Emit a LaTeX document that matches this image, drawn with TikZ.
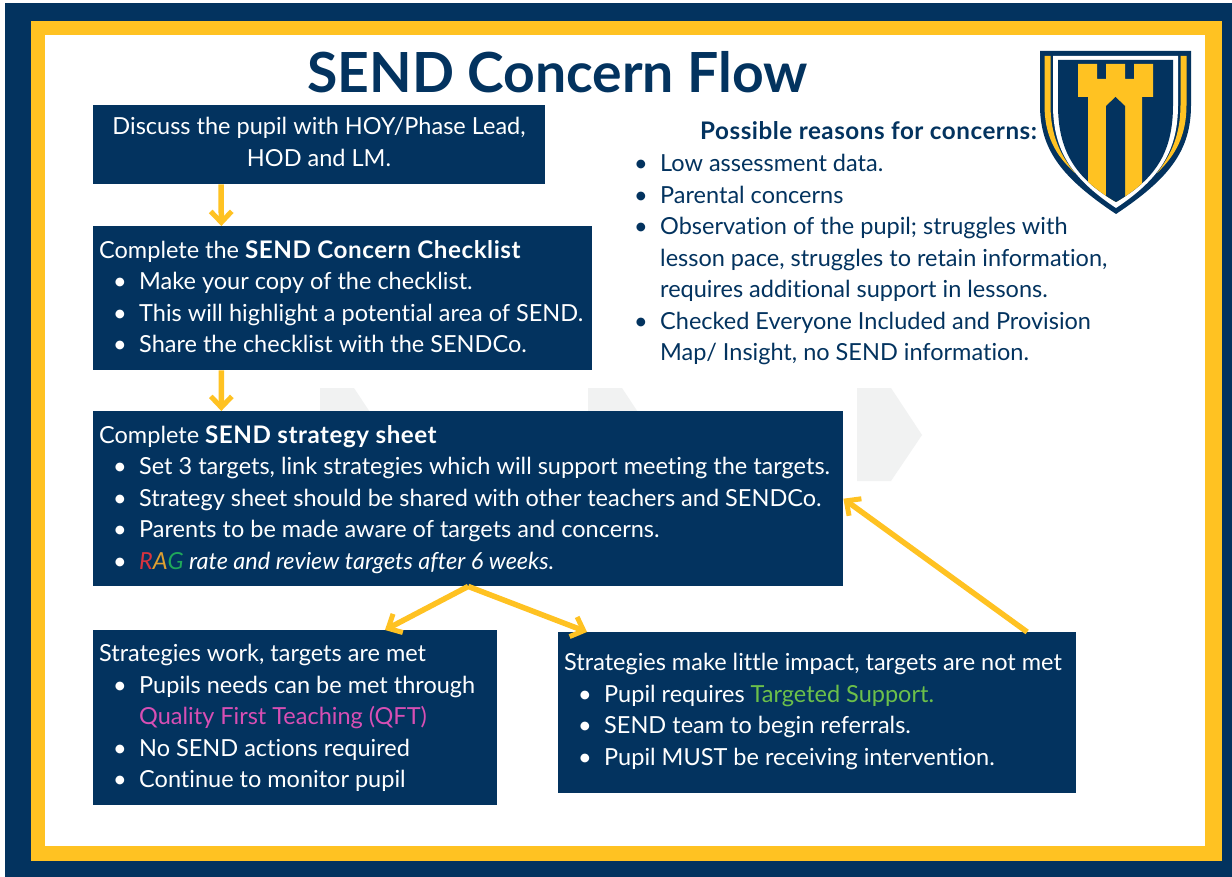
\documentclass[tikz,border=0pt]{standalone}
\usepackage{fontspec}
\setmainfont{Lato}[Ligatures=CommonOff]
\usetikzlibrary{arrows.meta,calc}
\definecolor{navy}{HTML}{03335F}
\definecolor{gold}{HTML}{FFC222}
\definecolor{wm}{HTML}{F1F2F2}
\definecolor{ragr}{HTML}{D8333F}
\definecolor{raga}{HTML}{E0A030}
\definecolor{ragg}{HTML}{1FA85A}
\definecolor{qft}{HTML}{D84FB4}
\definecolor{tgt}{HTML}{6CC04A}
\newcommand{\blt}{\hspace{14pt}\makebox[26pt][l]{\textbullet}}
\newcommand{\cnt}{\hspace{40pt}}
\newcommand{\hd}[1]{{\bfseries\addfontfeature{LetterSpace=2.2}\fontsize{24.2}{31.5}\selectfont #1}}
\tikzset{
  x=1pt,y=-1pt,
  box/.style={fill=navy,draw=none,anchor=north west,inner sep=0pt},
  txt/.style={anchor=north west,inner sep=0pt,align=left,text=white,font=\fontsize{23.5}{31.5}\selectfont},
  dtxt/.style={txt,text=navy},
  flow/.style={draw=gold,line width=5.5pt,-{Straight Barb[length=11pt,width=21pt,line width=5pt]},shorten >=0pt},
  wmark/.style={fill=wm,draw=none}
}
\newcommand{\shieldpath}[3]{% side inset, top, bottom
  (1040+#1,#2) -- (1191-#1,#2) -- (1191-#1,105) .. controls (1191-#1,150) and (1170-#1*.7,178) .. (1116,#3)
  .. controls (1062+#1*.7,178) and (1040+#1,150) .. (1040+#1,105) -- cycle}
\begin{document}
\begin{tikzpicture}
\useasboundingbox (0,0) rectangle (1232,877);
\fill[white] (0,0) rectangle (1232,877);
\fill[navy] (5,3) rectangle (1232,877);
\fill[gold] (31,21) rectangle (1222,861);
\fill[white] (45,35) rectangle (1205,846);
% watermark
\foreach \wx/\wn in {320/1,588/2,857/3}
  \fill[wmark] (\wx,388) -- (\wx+34,388) -- (\wx+65,435) -- (\wx+34,481) -- (\wx,481) -- cycle;
% title
\node[anchor=base,inner sep=0pt,text=navy,font=\fontsize{55.3}{60}\bfseries\selectfont] (title) at (557.5,93) {SEND Concern Flow};
% boxes
\node[box,minimum width=452pt,minimum height=79pt] (b1) at (93,105) {};
\node[box,minimum width=499pt,minimum height=144pt] (b2) at (93,226) {};
\node[box,minimum width=750pt,minimum height=175pt] (b3) at (93,411) {};
\node[box,minimum width=404pt,minimum height=175pt] (b4) at (93,630) {};
\node[box,minimum width=518pt,minimum height=161pt] (b5) at (558,632) {};
% box text
\node[txt,anchor=center,align=center] (t1) at (319,142) {Discuss the pupil with HOY/Phase Lead,\\HOD and LM.};
\node[txt] (t2) at (99,240) {Complete the \hd{SEND Concern Checklist}\\
\blt Make your copy of the checklist.\\
\blt This will highlight a potential area of SEND.\\
\blt Share the checklist with the SENDCo.};
\node[txt] (t3) at (99,425) {Complete \hd{SEND strategy sheet}\\
\blt Set 3 targets, link strategies which will support meeting the targets.\\
\blt Strategy sheet should be shared with other teachers and SENDCo.\\
\blt Parents to be made aware of targets and concerns.\\
\blt \textit{\textcolor{ragr}{R}\textcolor{raga}{A}\textcolor{ragg}{G} rate and review targets after 6 weeks.}};
\node[txt] (t4) at (99,644) {Strategies work, targets are met\\
\blt Pupils needs can be met through\\
\cnt\textcolor{qft}{Quality First Teaching (QFT)}\\
\blt No SEND actions required\\
\blt Continue to monitor pupil};
\node[txt] (t5) at (564,653) {Strategies make little impact, targets are not met\\
\blt Pupil requires \textcolor{tgt}{Targeted Support.}\\
\blt SEND team to begin referrals.\\
\blt Pupil MUST be receiving intervention.};
% reasons
\node[dtxt] (r0) at (700,121) {\hd{Possible reasons for concerns:}};
\node[dtxt] (r1) at (620,154) {\blt Low assessment data.\\
\blt Parental concerns\\
\blt Observation of the pupil; struggles with\\
\cnt lesson pace, struggles to retain information,\\
\cnt requires additional support in lessons.\\
\blt Checked Everyone Included and Provision\\
\cnt Map/ Insight, no SEND information.};
% connectors
\draw[flow] ($(b1.south west)!0.283!(b1.south east)$) -- ($(b2.north west)!0.257!(b2.north east)$);
\draw[flow] ($(b2.south west)!0.257!(b2.south east)$) -- ($(b3.north west)!0.171!(b3.north east)$);
\draw[flow] ($(b3.south west)!0.5!(b3.south east)$) -- ($(b4.north west)!0.722!(b4.north east)$);
\draw[flow] ($(b3.south west)!0.5!(b3.south east)$) -- ($(b5.north west)!0.056!(b5.north east)$);
\draw[flow] ($(b5.north west)!0.905!(b5.north east)$) -- ($(b3.north east)!0.5!(b3.south east)$);
% shield
\fill[navy] \shieldpath{0}{51}{214};
\fill[gold] (1044.5,56) -- (1050.5,56) -- (1050.5,105) .. controls (1050.5,135) and (1060,155) .. (1075,173)
  .. controls (1055,155) and (1044.5,135) .. (1044.5,105) -- cycle;
\fill[gold] (1186.5,56) -- (1180.5,56) -- (1180.5,105) .. controls (1180.5,135) and (1171,155) .. (1157,173)
  .. controls (1176,155) and (1186.5,135) .. (1186.5,105) -- cycle;
\fill[white] \shieldpath{13}{56}{208};
\fill[navy] \shieldpath{18}{60}{202};
\begin{scope}
\clip \shieldpath{18}{60}{202};
\fill[gold] (1078,64) -- (1097,64) -- (1097,79) -- (1106,79) -- (1106,64) -- (1125,64) -- (1125,79) -- (1134,79) -- (1134,64) -- (1153,64) -- (1153,97) -- (1142,97) -- (1142,210) -- (1088,210) -- (1088,97) -- (1078,97) -- cycle;
\fill[navy] (1115.5,97) -- (1125,106) -- (1125,210) -- (1106,210) -- (1106,106) -- cycle;
\end{scope}
\end{tikzpicture}
\end{document}
